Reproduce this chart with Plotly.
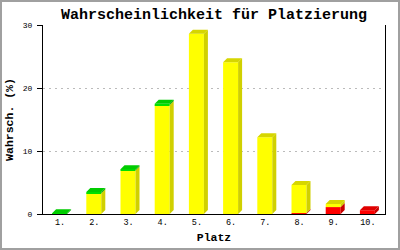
import plotly.graph_objects as go

# ---- data ----
categories = ["1.", "2.", "3.", "4.", "5.", "6.", "7.", "8.", "9.", "10."]
red_vals = [0, 0, 0, 0, 0, 0, 0, 0.15, 1.1, 0.6]
yellow_vals = [0, 3.3, 6.9, 17.3, 28.6, 24.1, 12.2, 4.45, 0.5, 0]
green_vals = [0.1, 0.2, 0.2, 0.2, 0, 0, 0, 0, 0, 0]
y_ticks = [0, 10, 20, 30]

# ---- geometry ----
W, H = 400, 250
ML, MR, MT, MB = 43, 15, 25, 36
Y_MAX = 30
PW, PH = W - ML - MR, H - MT - MB
n = len(categories)
ux = PW / n          # px per x unit
uy = PH / Y_MAX      # px per y unit
bw = 15 / ux
off = -8 / ux
dx = 4 / ux
dy = 4 / uy

series = [
    # name, values, front, side, top
    ("red", red_vals, "#FF0000", "#C80000", "#E00000"),
    ("yellow", yellow_vals, "#FFFF00", "#D0D000", "#D6D600"),
    ("green", green_vals, "#00E000", "#00A000", "#00CC00"),
]

fig = go.Figure()
xs = list(range(n))
bases = [0.0] * n
segs = []
for name, vals, front, side, top in series:
    fig.add_trace(go.Bar(x=xs, y=vals, base=list(bases), width=bw, offset=off,
                         marker=dict(color=front, line=dict(width=0)),
                         hoverinfo="skip", showlegend=False))
    seg = []
    for i, v in enumerate(vals):
        seg.append((bases[i], bases[i] + v) if v > 0 else None)
        bases[i] += v
    segs.append(seg)

topmost = [None] * n
for k, seg in enumerate(segs):
    for i, s in enumerate(seg):
        if s is not None:
            topmost[i] = k

for k, (name, vals, front, side, top) in enumerate(series):
    sx, sy, tx, ty = [], [], [], []
    for i, s in enumerate(segs[k]):
        if s is None:
            continue
        b, t = s
        xl = i + off
        xr = xl + bw
        sx += [xr, xr, xr + dx, xr + dx, xr, None]
        sy += [b, t, t + dy, b + dy, b, None]
        if topmost[i] == k:
            tx += [xl, xr, xr + dx, xl + dx, xl, None]
            ty += [t, t, t + dy, t + dy, t, None]
    if sx:
        fig.add_trace(go.Scatter(x=sx, y=sy, mode="lines", fill="toself",
                                 fillcolor=side, line=dict(width=0, color=side),
                                 hoverinfo="skip", showlegend=False))
    if tx:
        fig.add_trace(go.Scatter(x=tx, y=ty, mode="lines", fill="toself",
                                 fillcolor=top, line=dict(width=0, color=top),
                                 hoverinfo="skip", showlegend=False))

FONT = "Liberation Mono"
fig.update_layout(
    width=W, height=H,
    margin=dict(l=ML, r=MR, t=MT, b=MB, pad=0, autoexpand=False),
    paper_bgcolor="white", plot_bgcolor="white",
    barmode="overlay",
    showlegend=False,
    title=dict(text="Wahrscheinlichkeit für Platzierung",
               font=dict(family=FONT, size=15, color="black", weight="bold"),
               x=0.5, xanchor="center", xref="paper",
               y=1 - 14 / H, yanchor="middle", yref="container"),
    xaxis=dict(range=[-0.5, n - 0.5], tickvals=xs, ticktext=categories,
               automargin=False,
               showline=True, linecolor="black", linewidth=1, mirror=False,
               ticks="", showgrid=False, zeroline=False,
               tickfont=dict(family=FONT, size=8.5, color="black"),
               title=dict(text="Platz", standoff=5,
                          font=dict(family=FONT, size=11.5, color="black", weight="bold"))),
    yaxis=dict(range=[0, Y_MAX], tickvals=y_ticks,
               automargin=False,
               showline=True, linecolor="black", linewidth=1, mirror=True,
               ticks="outside", ticklen=5, tickcolor="black", tickwidth=1,
               ticklabelstandoff=3,
               showgrid=True, gridcolor="#BBBBBB", griddash="2px,4px", gridwidth=1,
               zeroline=False,
               tickfont=dict(family=FONT, size=8, color="black"),
               title=dict(text="Wahrsch. (%)", standoff=6,
                          font=dict(family=FONT, size=11.5, color="black", weight="bold"))),
    shapes=[dict(type="rect", xref="paper", yref="paper",
                 x0=(1 - ML) / PW, x1=(W - 1 - ML) / PW,
                 y0=-(H - 1 - MT - PH) / PH, y1=1 + (MT - 1) / PH,
                 line=dict(color="#A0A0A0", width=2), fillcolor="rgba(0,0,0,0)",
                 layer="above")],
)

fig.write_html("out.html")
